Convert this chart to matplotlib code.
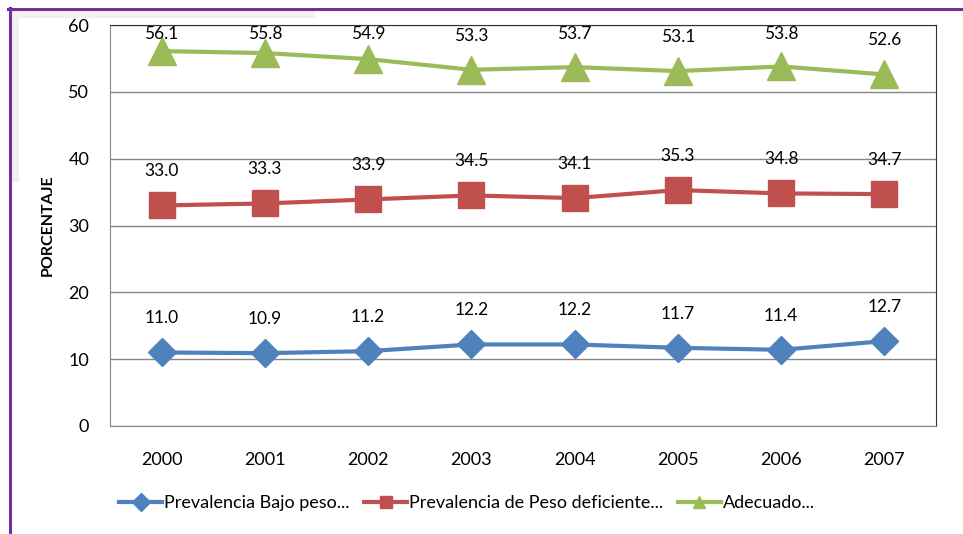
import matplotlib
matplotlib.use("Agg")
import matplotlib.pyplot as plt
from matplotlib.lines import Line2D
from matplotlib.patches import Rectangle

plt.rcParams['font.family'] = ['Lato', 'DejaVu Sans']

years = ['2000', '2001', '2002', '2003', '2004', '2005', '2006', '2007']
bajo_peso = [11.0, 10.9, 11.2, 12.2, 12.2, 11.7, 11.4, 12.7]
peso_deficiente = [33.0, 33.3, 33.9, 34.5, 34.1, 35.3, 34.8, 34.7]
adecuado = [56.1, 55.8, 54.9, 53.3, 53.7, 53.1, 53.8, 52.6]
series_names = ['Prevalencia Bajo peso...', 'Prevalencia de Peso deficiente...', 'Adecuado...']
y_ticks = [0, 10, 20, 30, 40, 50, 60]

W, H = 963, 534
fig = plt.figure(figsize=(W / 100, H / 100), dpi=100)
ax = fig.add_axes([110 / W, 1 - 426 / H, (936 - 110) / W, (426 - 25) / H])

x = list(range(len(years)))
styles = [
    (bajo_peso, '#4F81BD', 'D', 14),
    (peso_deficiente, '#C0504D', 's', 18.5),
    (adecuado, '#9BBB59', '^', 19.5),
]
handles = []
for (vals, col, mk, ms), name in zip(styles, series_names):
    h, = ax.plot(x, vals, color=col, lw=3, marker=mk, markersize=ms,
                 markeredgecolor=col, label=name, zorder=3)
    handles.append(h)
    for xi, v in zip(x, vals):
        ax.text(xi, min(v + 5.1, 58.6), f"{v:.1f}", ha='center', va='center',
                fontsize=12.5, color='black', zorder=4)

ax.set_xlim(-0.5, len(years) - 0.5)
ax.set_ylim(0, 60)
ax.set_yticks(y_ticks)
ax.set_xticks(x)
ax.set_xticklabels(years)
ax.tick_params(axis='both', length=0, labelsize=13)
ax.tick_params(axis='y', pad=15)
ax.tick_params(axis='x', pad=19)
ax.grid(axis='y', color='#868686', lw=1, zorder=0)
ax.set_axisbelow(True)
for s in ['left', 'bottom']:
    ax.spines[s].set_color('#868686')
for s in ['top', 'right']:
    ax.spines[s].set_color('#333333')
ax.set_ylabel('PORCENTAJE', fontsize=11.5, fontweight='bold', labelpad=10)

# legend with line handles
leg_handles = [Line2D([0], [0], color=h.get_color(), lw=3, marker=h.get_marker(),
                      markersize=9, markeredgecolor=h.get_color()) for h in handles]
fig.legend(leg_handles, series_names, loc='center', bbox_to_anchor=(467 / W, 1 - 503 / H),
           ncol=3, frameon=False, fontsize=13, handlelength=2.4, handletextpad=0.1,
           columnspacing=0.8)

# decorative frame artifacts
fig.add_artist(Rectangle((11 / W, 1 - 18 / H), (315 - 11) / W, 8 / H,
                         transform=fig.transFigure, color='#f0f0f0', lw=0, zorder=0))
fig.add_artist(Rectangle((11 / W, 1 - 182 / H), 8 / W, (182 - 10) / H,
                         transform=fig.transFigure, color='#f0f0f0', lw=0, zorder=0))
fig.add_artist(Line2D([9.5 / W, 9.5 / W], [0, 1 - 8 / H], transform=fig.transFigure,
                      color='#7030A0', lw=2.2))
fig.add_artist(Line2D([8 / W, 1], [1 - 8.5 / H, 1 - 8.5 / H], transform=fig.transFigure,
                      color='#7030A0', lw=2.2))

fig.savefig('out.png', dpi=100)
